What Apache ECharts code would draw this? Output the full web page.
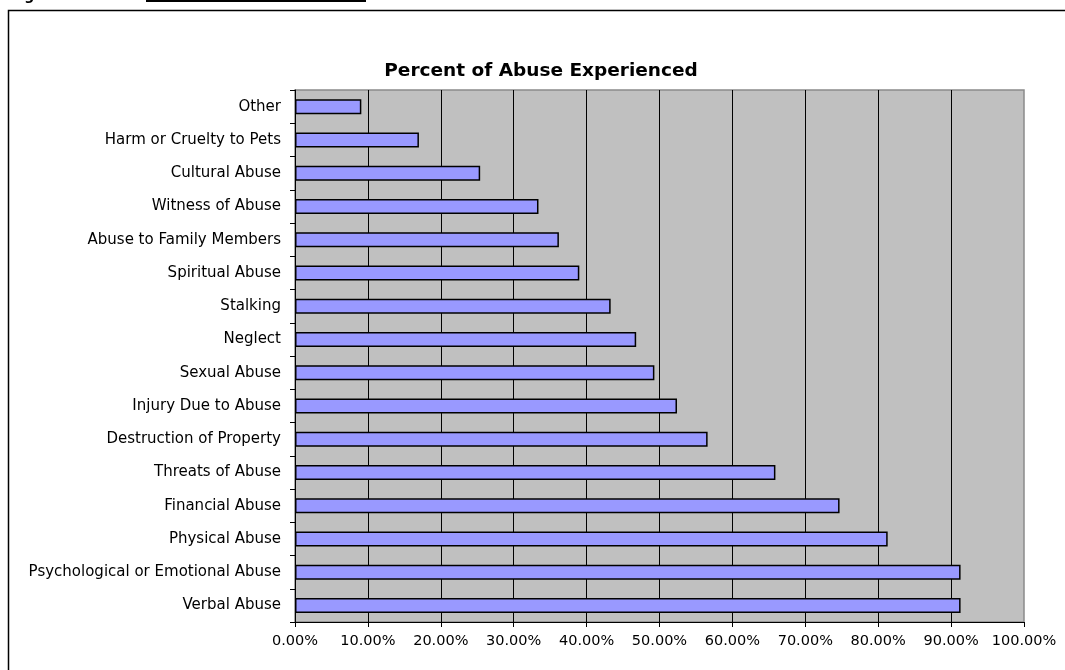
<!DOCTYPE html>
<html>
<head>
<meta charset="utf-8">
<title>Percent of Abuse Experienced</title>
<script src="https://cdn.jsdelivr.net/npm/echarts@6/dist/echarts.min.js"></script>
<style>
  html, body { margin: 0; padding: 0; background: #fff; }
  #chart { width: 1065px; height: 670px; }
</style>
</head>
<body>
<div id="chart"></div>
<script>
// Abuse types, listed from the bottom of the chart upwards
const categories = [
  'Verbal Abuse',
  'Psychological or Emotional Abuse',
  'Physical Abuse',
  'Financial Abuse',
  'Threats of Abuse',
  'Destruction of Property',
  'Injury Due to Abuse',
  'Sexual Abuse',
  'Neglect',
  'Stalking',
  'Spiritual Abuse',
  'Abuse to Family Members',
  'Witness of Abuse',
  'Cultural Abuse',
  'Harm or Cruelty to Pets',
  'Other'
];

// Percent of respondents reporting each type
const percents = [91.3, 91.3, 81.3, 74.7, 65.9, 56.6, 52.4, 49.3, 46.8, 43.3, 39.0, 36.2, 33.4, 25.4, 17.0, 9.1];

const chartTitle = 'Percent of Abuse Experienced';

const FONT = '"DejaVu Sans", "Liberation Sans", Arial, sans-serif';

const chart = echarts.init(document.getElementById('chart'));

chart.setOption({
  animation: false,
  backgroundColor: '#ffffff',
  title: {
    text: chartTitle,
    left: 536,
    top: 57,
    textAlign: 'center',
    textStyle: { fontFamily: FONT, fontWeight: 'bold', fontSize: 18.5, color: '#000' }
  },
  graphic: [
    {
      // outer frame around the figure
      type: 'rect',
      silent: true,
      shape: { x: 8.5, y: 10.5, width: 1100, height: 700 },
      style: { fill: 'none', stroke: '#000', lineWidth: 1.5 }
    },
    {
      type: 'text',
      silent: true,
      left: 10,
      top: -11,
      style: { text: 'Figure', fontFamily: FONT, fontSize: 14, fontWeight: 'bold', fill: '#000' }
    },
    {
      type: 'rect',
      silent: true,
      shape: { x: 146, y: 0, width: 220, height: 2 },
      style: { fill: '#000' }
    }
  ],
  grid: {
    left: 295,
    right: 41,
    top: 90,
    bottom: 48,
    show: true,
    backgroundColor: '#c0c0c0',
    borderColor: '#8a8a8a',
    borderWidth: 1.5
  },
  xAxis: {
    type: 'value',
    min: 0,
    max: 100,
    interval: 10,
    axisLine: { show: true, lineStyle: { color: '#000', width: 1 } },
    axisTick: { show: true, length: 5, lineStyle: { color: '#000' } },
    axisLabel: {
      margin: 12,
      fontFamily: FONT,
      fontSize: 14.5,
      color: '#000',
      formatter: v => v.toFixed(2) + '%'
    },
    splitLine: { show: true, showMaxLine: false, lineStyle: { color: '#000', width: 1 } }
  },
  yAxis: {
    type: 'category',
    data: categories,
    axisLine: { show: true, lineStyle: { color: '#000', width: 1 } },
    axisTick: { show: true, length: 5, lineStyle: { color: '#000' } },
    axisLabel: { margin: 14, fontFamily: FONT, fontSize: 15, color: '#000' },
    splitLine: { show: false }
  },
  series: [{
    type: 'bar',
    data: percents,
    barWidth: 15,
    itemStyle: { color: '#9999ff', borderColor: '#000', borderWidth: 1.5 }
  }]
});
</script>
</body>
</html>
